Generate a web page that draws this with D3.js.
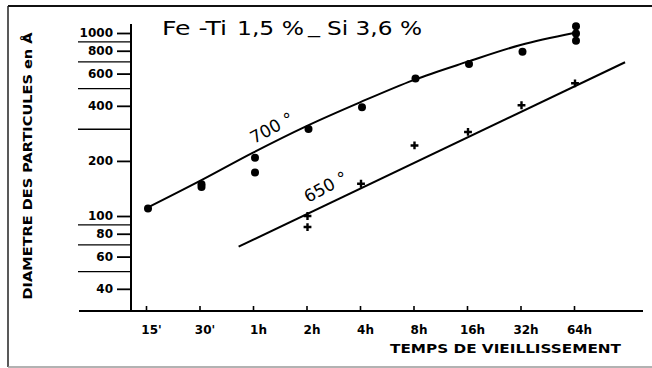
<!DOCTYPE html>
<html>
<head>
<meta charset="utf-8">
<script src="https://cdn.jsdelivr.net/npm/d3@7/dist/d3.min.js"></script>
<style>
html,body{margin:0;padding:0;background:#fff;}
svg{display:block;}
text{font-family:"DejaVu Sans",sans-serif;fill:#000;}
</style>
</head>
<body>
<script>
// ---- data ----
const xTickTimes = [0.25, 0.5, 1, 2, 4, 8, 16, 32, 64];          // hours
const xTickLabels = ["15'", "30'", "1h", "2h", "4h", "8h", "16h", "32h", "64h"];
const yTickValues = [40, 60, 80, 100, 200, 400, 600, 800, 1000];
const yMinorValues = [50, 70, 90, 300, 500, 700, 900];

// 700 °C measured points
const times700 = [0.25, 0.5, 0.5, 1, 1, 2, 4, 8, 16, 32, 64, 64, 64];
const size700  = [110, 144, 149, 208, 173, 299, 393, 565, 677, 791, 1090, 995, 908];
// 700 °C drawn curve
const curveTimes700 = [0.25, 0.5, 1, 2, 4, 8, 16, 32, 64];
const curveSize700  = [110, 155, 222, 310, 418, 553, 695, 860, 1000];

// 650 °C measured points
const times650 = [2, 2, 4, 8, 16, 32, 64];
const size650  = [100, 87, 150, 243, 288, 403, 531];
// 650 °C drawn line
const lineTimes650 = [0.83, 124];
const lineSize650  = [68, 692];

const titleParts = ["Fe -Ti", "1,5 %", "_", "Si 3,6 %"];
const yTitle = "DIAMETRE DES PARTICULES en Å";
const xTitle = "TEMPS DE VIEILLISSEMENT";

// ---- drawing ----
const W = 652, H = 368;
const svg = d3.select("body").append("svg").attr("width", W).attr("height", H);
svg.append("rect").attr("width", W).attr("height", H).attr("fill", "#fff");

const x = d3.scaleLog().base(2).domain([0.25, 64]).range([146, 574]);
const y = d3.scaleLog().domain([100, 1000]).range([216, 33]);
const axisX = 131, axisY = 311;

// frame
svg.append("line").attr("x1", 8).attr("x2", W).attr("y1", 6).attr("y2", 6)
  .attr("stroke", "#111").attr("stroke-width", 2);
svg.append("line").attr("x1", 8).attr("x2", 8).attr("y1", 6).attr("y2", 367)
  .attr("stroke", "#222").attr("stroke-width", 1.5);
svg.append("line").attr("x1", 8).attr("x2", W).attr("y1", 367).attr("y2", 367)
  .attr("stroke", "#999").attr("stroke-width", 1.5);

// title
const titleX = [162, 237, 308, 327];
const titleLen = [65, 67, 12, 95];
titleParts.forEach((t, i) => {
  svg.append("text").attr("x", titleX[i]).attr("y", t === "_" ? 33 : 35)
    .attr("font-size", 19).attr("textLength", titleLen[i])
    .attr("lengthAdjust", "spacingAndGlyphs")
    .style("white-space", "pre").text(t);
});

// Y axis
const gy = svg.append("g").attr("transform", `translate(${axisX},0)`)
  .call(d3.axisLeft(y).tickValues(yTickValues).tickSize(14).tickPadding(4)
    .tickFormat(d3.format("d")));
gy.select(".domain").remove();
gy.selectAll(".tick line").attr("stroke", "#000").attr("stroke-width", 1.8);
gy.selectAll(".tick text").attr("font-family", "DejaVu Sans").attr("font-weight", "bold")
  .attr("font-size", 12).attr("fill", "#000");
const gyMinor = svg.append("g").attr("transform", `translate(${axisX},0)`)
  .call(d3.axisLeft(y).tickValues(yMinorValues).tickSize(53).tickFormat(""));
gyMinor.select(".domain").remove();
gyMinor.selectAll(".tick line").attr("stroke", "#000").attr("stroke-width", 1.4);
svg.append("line").attr("x1", axisX).attr("x2", axisX).attr("y1", 24).attr("y2", axisY + 1)
  .attr("stroke", "#000").attr("stroke-width", 2);

// X axis
const gx = svg.append("g").attr("transform", `translate(0,${axisY})`)
  .call(d3.axisBottom(x).tickValues(xTickTimes).tickSize(-5).tickPadding(14)
    .tickFormat((d, i) => xTickLabels[i]));
gx.select(".domain").remove();
gx.selectAll(".tick line").attr("stroke", "#000").attr("stroke-width", 1.6);
gx.selectAll(".tick text").attr("font-family", "DejaVu Sans").attr("font-weight", "bold")
  .attr("font-size", 12).attr("fill", "#000").attr("dx", 5);
svg.append("line").attr("x1", 79).attr("x2", 643).attr("y1", axisY).attr("y2", axisY)
  .attr("stroke", "#000").attr("stroke-width", 2);

// axis titles
svg.append("text").attr("x", 390).attr("y", 353).attr("font-size", 13).attr("font-weight", "bold")
  .attr("textLength", 231).attr("lengthAdjust", "spacingAndGlyphs").text(xTitle);
svg.append("text").attr("transform", "translate(32,166) rotate(-90)")
  .attr("text-anchor", "middle").attr("font-size", 13).attr("font-weight", "bold")
  .attr("textLength", 267).attr("lengthAdjust", "spacingAndGlyphs").text(yTitle);

// 700 curve
const curve700 = curveTimes700.map((t, i) => [x(t), y(curveSize700[i])]);
svg.append("path").attr("d", d3.line().curve(d3.curveMonotoneX)(curve700))
  .attr("fill", "none").attr("stroke", "#000").attr("stroke-width", 2);
svg.selectAll("circle.p700").data(times700).join("circle").attr("class", "p700")
  .attr("cx", (t) => x(t) + 2).attr("cy", (t, i) => y(size700[i])).attr("r", 4)
  .attr("fill", "#000");

// 650 line
const line650 = lineTimes650.map((t, i) => [x(t), y(lineSize650[i])]);
svg.append("path").attr("d", d3.line()(line650))
  .attr("fill", "none").attr("stroke", "#000").attr("stroke-width", 2);
svg.selectAll("path.p650").data(times650).join("path").attr("class", "p650")
  .attr("transform", (t, i) => `translate(${x(t) + 1},${y(size650[i])})`)
  .attr("d", d3.symbol(d3.symbolPlus, 22)())
  .attr("fill", "none").attr("stroke", "#000").attr("stroke-width", 2.4);

// curve labels
svg.append("text").attr("transform", "translate(254,144) rotate(-28)")
  .attr("font-size", 17).style("white-space", "pre").text("700 °");
svg.append("text").attr("transform", "translate(308,203) rotate(-28)")
  .attr("font-size", 17).style("white-space", "pre").text("650 °");
</script>
</body>
</html>
